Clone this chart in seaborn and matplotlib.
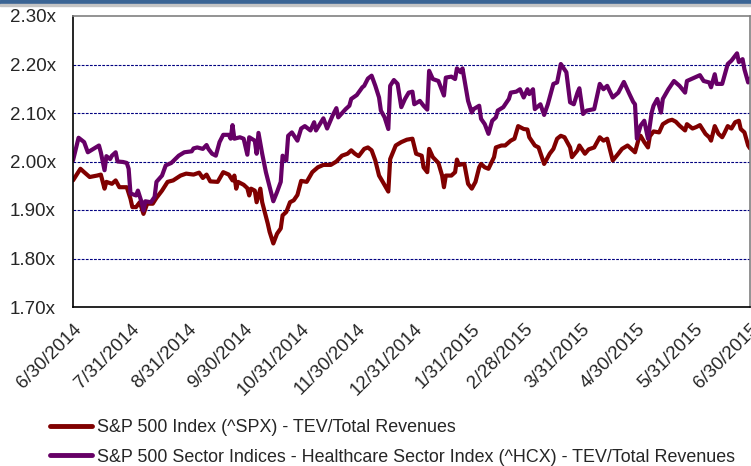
import pandas as pd
import numpy as np
import seaborn as sns
import matplotlib.pyplot as plt
from matplotlib.patches import Rectangle

## data (days after 6/30/2014, TEV/Revenue multiple)
spx_days = [0, 4, 6, 9, 13, 15, 17, 18, 21, 23, 25, 29, 31, 32, 34, 36, 38, 40, 43, 45,
            48, 51, 54, 58, 61, 65, 68, 70, 72, 74, 78, 81, 84, 86, 87, 88, 89, 92, 94, 95,
            96, 98, 99, 101, 102, 105, 106, 108, 110, 112, 113, 115, 117, 119, 121, 123, 126, 129, 132, 135,
            139, 142, 145, 148, 150, 152, 154, 157, 159, 161, 163, 165, 167, 170, 171, 174, 177, 180, 183, 185,
            188, 189, 191, 192, 194, 197, 199, 200, 201, 204, 206, 207, 208, 211, 213, 215, 217, 219, 220, 222,
            224, 227, 228, 231, 233, 236, 238, 240, 243, 245, 246, 249, 251, 254, 257, 259, 261, 263, 265, 268,
            269, 272, 273, 276, 278, 281, 284, 286, 288, 291, 294, 296, 299, 301, 303, 305, 306, 308, 310, 311,
            313, 316, 318, 321, 323, 325, 327, 330, 331, 334, 336, 338, 341, 343, 344, 346, 348, 350, 351, 353,
            355, 357, 359, 360, 362, 364, 365]
spx_vals = [1.961, 1.985, 1.978, 1.968, 1.971, 1.973, 1.944, 1.958, 1.954, 1.961, 1.947, 1.947, 1.923, 1.906, 1.906, 1.916, 1.892, 1.913, 1.913, 1.925,
            1.940, 1.958, 1.961, 1.971, 1.975, 1.973, 1.977, 1.966, 1.973, 1.959, 1.958, 1.978, 1.973, 1.961, 1.971, 1.944, 1.958, 1.952, 1.945, 1.930,
            1.944, 1.940, 1.916, 1.944, 1.916, 1.872, 1.855, 1.831, 1.851, 1.862, 1.889, 1.896, 1.916, 1.920, 1.931, 1.960, 1.958, 1.978, 1.988, 1.993,
            1.993, 2.000, 2.012, 2.016, 2.023, 2.016, 2.011, 2.026, 2.029, 2.023, 2.002, 1.971, 1.958, 1.938, 2.005, 2.033, 2.040, 2.045, 2.047, 2.016,
            2.012, 1.988, 1.978, 2.026, 2.009, 1.997, 1.971, 1.947, 1.971, 1.971, 1.978, 2.004, 1.993, 1.995, 1.954, 1.944, 1.958, 1.988, 1.995, 1.988,
            1.985, 2.009, 2.029, 2.033, 2.033, 2.043, 2.047, 2.073, 2.067, 2.066, 2.050, 2.033, 2.029, 1.995, 2.016, 2.026, 2.047, 2.053, 2.050, 2.029,
            2.009, 2.023, 2.033, 2.016, 2.025, 2.029, 2.050, 2.043, 2.047, 2.002, 2.016, 2.026, 2.033, 2.026, 2.019, 2.047, 2.053, 2.040, 2.029, 2.052,
            2.062, 2.060, 2.077, 2.084, 2.086, 2.082, 2.074, 2.064, 2.077, 2.068, 2.071, 2.075, 2.057, 2.050, 2.043, 2.073, 2.057, 2.050, 2.057, 2.073,
            2.068, 2.081, 2.084, 2.067, 2.060, 2.033, 2.027]

hcx_days = [0, 3, 6, 8, 11, 14, 15, 17, 18, 20, 21, 23, 24, 27, 29, 30, 31, 34, 35, 37,
            38, 39, 42, 44, 45, 48, 50, 53, 57, 60, 64, 65, 67, 70, 72, 73, 75, 77, 79, 81,
            84, 85, 86, 87, 90, 92, 94, 95, 98, 99, 100, 102, 104, 108, 110, 112, 113, 115, 116, 118,
            121, 123, 125, 128, 130, 131, 135, 137, 140, 142, 143, 147, 149, 150, 153, 156, 157, 159, 161, 163,
            165, 166, 168, 170, 171, 173, 175, 177, 179, 181, 183, 184, 187, 189, 191, 192, 194, 197, 200, 201,
            204, 206, 207, 209, 210, 213, 215, 216, 219, 220, 222, 224, 226, 228, 229, 232, 235, 236, 239, 241,
            243, 245, 246, 248, 249, 252, 254, 256, 259, 261, 263, 266, 268, 270, 272, 273, 275, 277, 281, 284,
            286, 288, 291, 294, 297, 300, 302, 303, 304, 306, 308, 310, 312, 313, 315, 317, 318, 321, 324, 327,
            330, 331, 335, 338, 340, 343, 344, 346, 347, 350, 353, 355, 358, 359, 361, 362, 364, 365]
hcx_vals = [2.002, 2.049, 2.040, 2.019, 2.026, 2.033, 2.019, 1.982, 2.011, 2.005, 2.012, 2.019, 2.000, 1.999, 1.997, 1.985, 1.934, 1.930, 1.940, 1.916,
            1.899, 1.918, 1.916, 1.927, 1.958, 1.971, 1.992, 1.997, 2.012, 2.019, 2.021, 2.027, 2.029, 2.026, 2.034, 2.026, 2.016, 2.012, 2.040, 2.055,
            2.055, 2.047, 2.075, 2.047, 2.050, 2.047, 2.014, 2.050, 2.043, 2.016, 2.059, 2.016, 1.978, 1.918, 1.937, 1.958, 2.012, 2.002, 2.053, 2.060,
            2.043, 2.068, 2.073, 2.064, 2.081, 2.064, 2.089, 2.068, 2.095, 2.110, 2.091, 2.108, 2.115, 2.129, 2.137, 2.153, 2.156, 2.171, 2.177, 2.156,
            2.132, 2.105, 2.091, 2.067, 2.156, 2.168, 2.160, 2.112, 2.129, 2.142, 2.144, 2.118, 2.125, 2.115, 2.107, 2.187, 2.170, 2.166, 2.136, 2.173,
            2.175, 2.170, 2.192, 2.184, 2.192, 2.125, 2.101, 2.108, 2.115, 2.088, 2.077, 2.057, 2.084, 2.091, 2.105, 2.112, 2.129, 2.142, 2.144, 2.149,
            2.132, 2.149, 2.139, 2.149, 2.108, 2.118, 2.096, 2.118, 2.160, 2.163, 2.201, 2.184, 2.122, 2.118, 2.142, 2.151, 2.098, 2.105, 2.108, 2.160,
            2.149, 2.156, 2.132, 2.142, 2.164, 2.139, 2.123, 2.118, 2.047, 2.074, 2.084, 2.047, 2.101, 2.115, 2.129, 2.101, 2.129, 2.149, 2.166, 2.156,
            2.142, 2.166, 2.173, 2.178, 2.166, 2.163, 2.153, 2.180, 2.160, 2.160, 2.201, 2.208, 2.223, 2.205, 2.211, 2.190, 2.163, 2.171]

series_names = ["S&P 500 Index (^SPX) - TEV/Total Revenues",
                "S&P 500 Sector Indices - Healthcare Sector Index (^HCX) - TEV/Total Revenues"]
series_colors = ["#800000", "#660066"]

tick_dates = ["2014-06-30", "2014-07-31", "2014-08-31", "2014-09-30", "2014-10-31", "2014-11-30", "2014-12-31",
              "2015-01-31", "2015-02-28", "2015-03-31", "2015-04-30", "2015-05-31", "2015-06-30"]
tick_labels = ["6/30/2014", "7/31/2014", "8/31/2014", "9/30/2014", "10/31/2014", "11/30/2014", "12/31/2014",
               "1/31/2015", "2/28/2015", "3/31/2015", "4/30/2015", "5/31/2015", "6/30/2015"]
y_ticks = [1.70, 1.80, 1.90, 2.00, 2.10, 2.20, 2.30]

start = pd.Timestamp("2014-06-30")
df = pd.concat([
    pd.DataFrame({"date": start + pd.to_timedelta(spx_days, unit="D"), "value": spx_vals, "series": series_names[0]}),
    pd.DataFrame({"date": start + pd.to_timedelta(hcx_days, unit="D"), "value": hcx_vals, "series": series_names[1]}),
])

sns.set_style("white")
plt.rcParams["font.family"] = ["Liberation Sans", "DejaVu Sans"]

fig = plt.figure(figsize=(7.51, 4.66), dpi=100)
ax = fig.add_axes([73 / 751, 1 - 307 / 466, 677 / 751, 291 / 466])

# header bars
fig.patches.append(Rectangle((0, 1 - 4 / 466), 1, 4 / 466, transform=fig.transFigure, color="#3a6494", zorder=0))
fig.patches.append(Rectangle((0, 1 - 6 / 466), 1, 2 / 466, transform=fig.transFigure, color="#c4c4c4", zorder=0))

sns.lineplot(data=df, x="date", y="value", hue="series", hue_order=series_names,
             palette=series_colors, linewidth=3, ax=ax)

ax.set_xlim(pd.Timestamp(tick_dates[0]), pd.Timestamp(tick_dates[-1]))
ax.set_ylim(y_ticks[0], y_ticks[-1])
ax.set_xticks(pd.to_datetime(tick_dates))
ax.set_xticklabels(tick_labels, rotation=45, ha="right", rotation_mode="anchor", fontsize=13.5)
ax.set_yticks(y_ticks)
ax.set_yticklabels([f"{v:.2f}x" for v in y_ticks], fontsize=13.5)
ax.set_xlabel("")
ax.set_ylabel("")

for v in y_ticks[1:-1]:
    ax.axhline(v, color="#000080", linewidth=0.8, linestyle=(0, (2.5, 1.2)), zorder=0)

ax.tick_params(axis="y", direction="out", length=4.5, width=1, color="black", pad=8)
ax.tick_params(axis="x", direction="out", length=5, width=1, color="black", pad=5)
for side in ["left", "bottom"]:
    ax.spines[side].set_color("black")
    ax.spines[side].set_linewidth(1.2)
for side in ["top", "right"]:
    ax.spines[side].set_color("#808080")
    ax.spines[side].set_linewidth(1.2)

handles, labels = ax.get_legend_handles_labels()
ax.legend_.remove()
leg = fig.legend(handles, labels, loc="upper left", bbox_to_anchor=(50 / 751, 1 - 419 / 466),
                 frameon=False, fontsize=12.9, handlelength=2.35, handletextpad=0.28,
                 labelspacing=0.7, borderpad=0, borderaxespad=0)
for line in leg.get_lines():
    line.set_linewidth(3.5)

fig.savefig("out.png", dpi=100)
